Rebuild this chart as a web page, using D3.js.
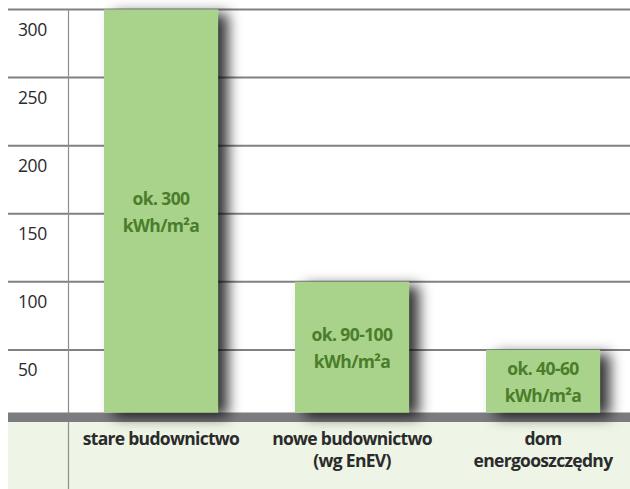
<!DOCTYPE html>
<html>
<head>
<meta charset="utf-8">
<script src="https://cdn.jsdelivr.net/npm/d3@7"></script>
<style>
  html, body { margin: 0; padding: 0; background: #fff; }
  svg { display: block; }
  text { font-family: "Open Sans", "Noto Sans", sans-serif; }
</style>
</head>
<body>
<svg id="chart" width="630" height="489"></svg>
<script>
const categories = [["stare budownictwo"], ["nowe budownictwo", "(wg EnEV)"], ["dom", "energooszczędny"]];
const values = [300, 100, 50];
const valueLabels = [["ok. 300", "kWh/m²a"], ["ok. 90-100", "kWh/m²a"], ["ok. 40-60", "kWh/m²a"]];
const tickValues = [50, 100, 150, 200, 250, 300];

const W = 630, H = 489;
const svg = d3.select("#chart");

const y = d3.scaleLinear().domain([0, 300]).range([418, 9.5]);
const x = d3.scaleBand().domain(d3.range(categories.length))
  .range([65.5, 638.5]).paddingInner(0.403).paddingOuter(0.2015);

const bandTop = 412.5, bandBottom = 422;

// shadow filter
const defs = svg.append("defs");
const f = defs.append("filter").attr("id", "shadow")
  .attr("x", "-40%").attr("y", "-40%").attr("width", "180%").attr("height", "180%");
f.append("feDropShadow").attr("dx", 10).attr("dy", 4).attr("stdDeviation", 7)
  .attr("flood-color", "#000").attr("flood-opacity", 0.8);

// bottom category area
svg.append("rect").attr("x", 8).attr("y", bandBottom).attr("width", W - 8).attr("height", H - bandBottom)
  .attr("fill", "#eef5e7");

// gridlines
svg.append("g").selectAll("line").data(tickValues).join("line")
  .attr("x1", 8).attr("x2", W)
  .attr("y1", d => y(d)).attr("y2", d => y(d))
  .attr("stroke", "#808085").attr("stroke-width", 2);

// vertical axis line
svg.append("line").attr("x1", 68.5).attr("x2", 68.5).attr("y1", y(300)).attr("y2", H)
  .attr("stroke", "#8e8e92").attr("stroke-width", 1.2);

// baseline band
svg.append("rect").attr("x", 8).attr("y", bandTop).attr("width", W - 8).attr("height", bandBottom - bandTop)
  .attr("fill", "#7c7c80");

// tick labels
svg.append("g").selectAll("text").data(tickValues).join("text")
  .attr("x", 18).attr("y", d => y(d) + 26.5)
  .attr("font-size", 17.5).attr("letter-spacing", -0.4).attr("fill", "#2b2b2b")
  .text(d => d);

// bars
svg.append("g").selectAll("rect").data(values).join("rect")
  .attr("x", (d, i) => x(i)).attr("width", x.bandwidth())
  .attr("y", d => y(d)).attr("height", d => bandTop - y(d))
  .attr("fill", "#a9d38b").attr("filter", "url(#shadow)");

// value labels
const vl = svg.append("g").selectAll("text").data(valueLabels).join("text")
  .attr("text-anchor", "middle").attr("font-size", 17.5).attr("font-weight", 700)
  .attr("letter-spacing", -0.6).attr("fill", "#4b7d2b");
vl.each(function(lines, i) {
  const mid = (y(values[i]) + bandTop) / 2;
  d3.select(this).selectAll("tspan").data(lines).join("tspan")
    .attr("x", x(i) + x.bandwidth() / 2)
    .attr("y", (d, j) => mid - 6 + j * 26.5)
    .text(d => d);
});

// category labels
const cl = svg.append("g").selectAll("text").data(categories).join("text")
  .attr("text-anchor", "middle").attr("font-size", 17.5).attr("font-weight", 700)
  .attr("letter-spacing", -0.7).attr("fill", "#2b2b2b");
cl.each(function(lines, i) {
  d3.select(this).selectAll("tspan").data(lines).join("tspan")
    .attr("x", x(i) + x.bandwidth() / 2)
    .attr("y", (d, j) => 445 + j * 22)
    .text(d => d);
});
</script>
</body>
</html>
